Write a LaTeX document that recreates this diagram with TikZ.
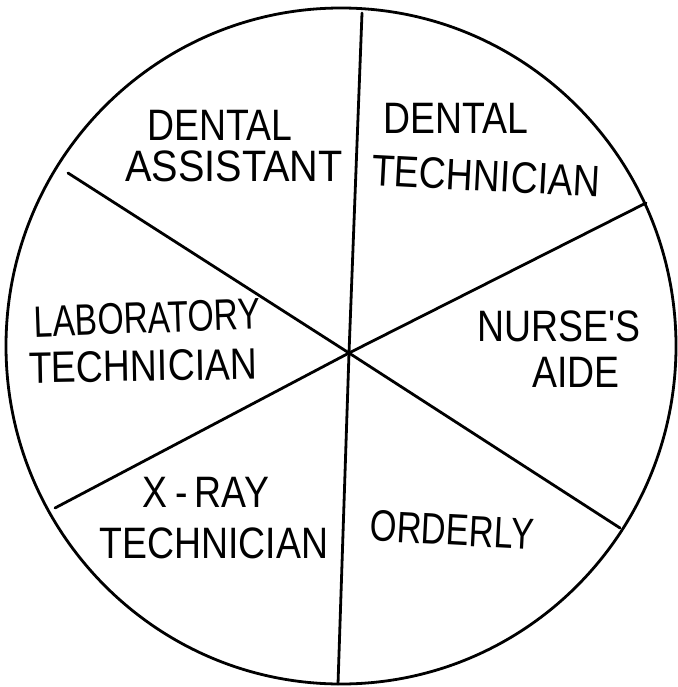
\documentclass[tikz,border=0pt]{standalone}
\usepackage{graphicx}
\usepackage{fontspec}
\newfontfamily\handfont{Liberation Sans}[FakeStretch=0.85]
\begin{document}
\begin{tikzpicture}[x=1pt,y=-1pt,
  rim/.style={line width=2.8pt,black},
  spoke/.style={line width=2.8pt,black,line cap=round},
  lbl/.style={font=\handfont\fontsize{44}{48}\selectfont,inner sep=0pt,anchor=center,text=black}]
\useasboundingbox (0,0) rectangle (677,687);
\fill[white] (0,0) rectangle (677,687);
% circle
\draw[rim] (341,346) ellipse [x radius=335, y radius=338];
% spokes
\coordinate (c) at (349,353);
\coordinate (eN) at (362,13);
\coordinate (eS) at (338,684);
\coordinate (eNW) at (68,173);
\coordinate (eNE) at (646,203);
\coordinate (eSE) at (620,528);
\coordinate (eSW) at (55,508);
\draw[spoke] (c) -- (eN);
\draw[spoke] (c) -- (eS);
\draw[spoke] (c) -- (eNW);
\draw[spoke] (c) -- (eNE);
\draw[spoke] (c) -- (eSE);
\draw[spoke] (c) -- (eSW);
% labels
\node[lbl] (da1) at (220,125) {DENTAL};
\node[lbl] (da2) at (234,166) {\scalebox{1.06}[1]{ASSISTANT}};
\node[lbl] (dt1) at (456,118) {DENTAL};
\node[lbl,rotate=-3] (dt2) at (486,176) {TECHNICIAN};
\node[lbl,rotate=2] (lt1) at (147,318) {\scalebox{0.9}[1]{LABORATORY}};
\node[lbl,rotate=1] (lt2) at (143,366) {TECHNICIAN};
\node[lbl] (na1) at (559,326) {NURSE'S};
\node[lbl] (na2) at (576,372) {AIDE};
\node[lbl] (xr1) at (206,492) {X\,-\,RAY};
\node[lbl] (xr2) at (214,543) {TECHNICIAN};
\node[lbl,rotate=-3] (or) at (452,530) {\scalebox{0.92}[1]{ORDERLY}};
\end{tikzpicture}
\end{document}
